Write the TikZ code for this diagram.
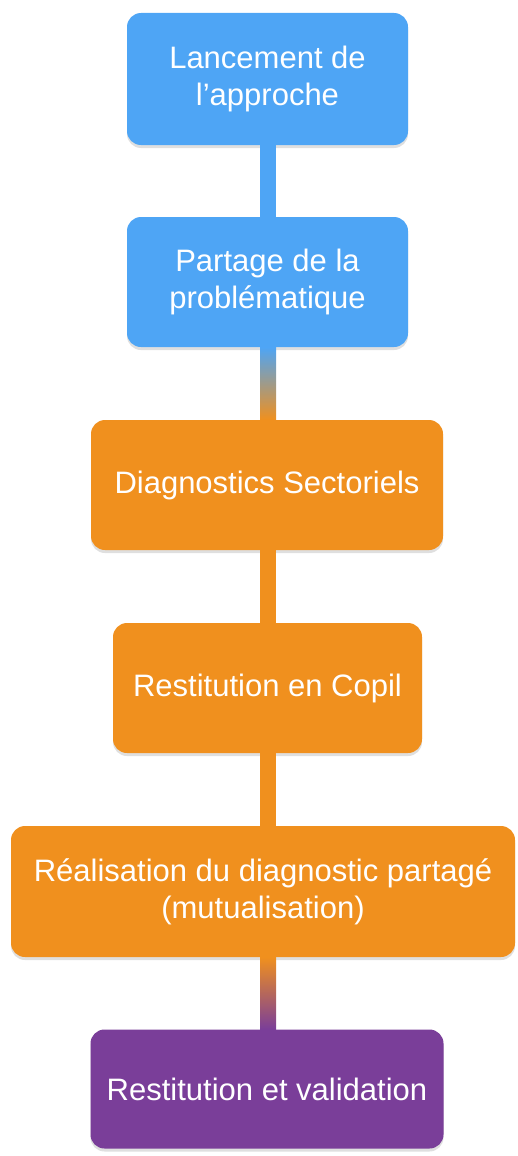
\documentclass[tikz,border=0pt]{standalone}
\usepackage{fontspec}
\setmainfont{Liberation Sans}
\usetikzlibrary{shadows}
\definecolor{stepblue}{RGB}{78,165,245}
\definecolor{steporange}{RGB}{240,144,30}
\definecolor{steppurple}{RGB}{122,62,153}
\tikzset{
  stepbox/.style   = {shape=rectangle, rounded corners=14pt,
                      align=center, text=white, inner sep=0pt,
                      font=\fontsize{31}{37}\selectfont,
                      minimum height=130pt,
                      drop shadow={shadow xshift=0pt, shadow yshift=-3pt, opacity=0.25}},
  bluestep/.style   = {stepbox, fill=stepblue},
  orangestep/.style = {stepbox, fill=steporange},
  purplestep/.style = {stepbox, fill=steppurple},
  link/.style       = {draw, line width=16pt}
}
\begin{document}
\begin{tikzpicture}[x=1pt, y=-1pt]
  \useasboundingbox (0,0) rectangle (518,1156);

  % steps
  \node [bluestep, minimum width=281pt, minimum height=132pt] (launch) at (267.5,79) {Lancement de\\l’approche};
  \node [bluestep, minimum width=281pt] (share) at (267.5,282) {Partage de la\\problématique};
  \node [orangestep, minimum width=352pt] (diag) at (267,485) {Diagnostics Sectoriels};
  \node [orangestep, minimum width=309pt] (copil) at (267.5,688) {Restitution en Copil};
  \node [orangestep, minimum width=504pt, minimum height=131pt] (mutual) at (263,891.5) {Réalisation du diagnostic partagé\\(mutualisation)};
  \node [purplestep, minimum width=353pt, minimum height=119pt] (valid) at (267,1089) {Restitution et validation};

  % links
  \draw [link, stepblue] (launch.south -| 268,0) -- (share.north -| 268,0);
  \shade [top color=stepblue, bottom color=steporange]
    ([xshift=-8pt] share.south -| 268,0) rectangle ([xshift=8pt] diag.north -| 268,0);
  \draw [link, steporange] (diag.south -| 268,0) -- (copil.north -| 268,0);
  \draw [link, steporange] (copil.south -| 268,0) -- (mutual.north -| 268,0);
  \shade [top color=steporange, bottom color=steppurple]
    ([xshift=-8pt] mutual.south -| 268,0) rectangle ([xshift=8pt] valid.north -| 268,0);
\end{tikzpicture}
\end{document}
